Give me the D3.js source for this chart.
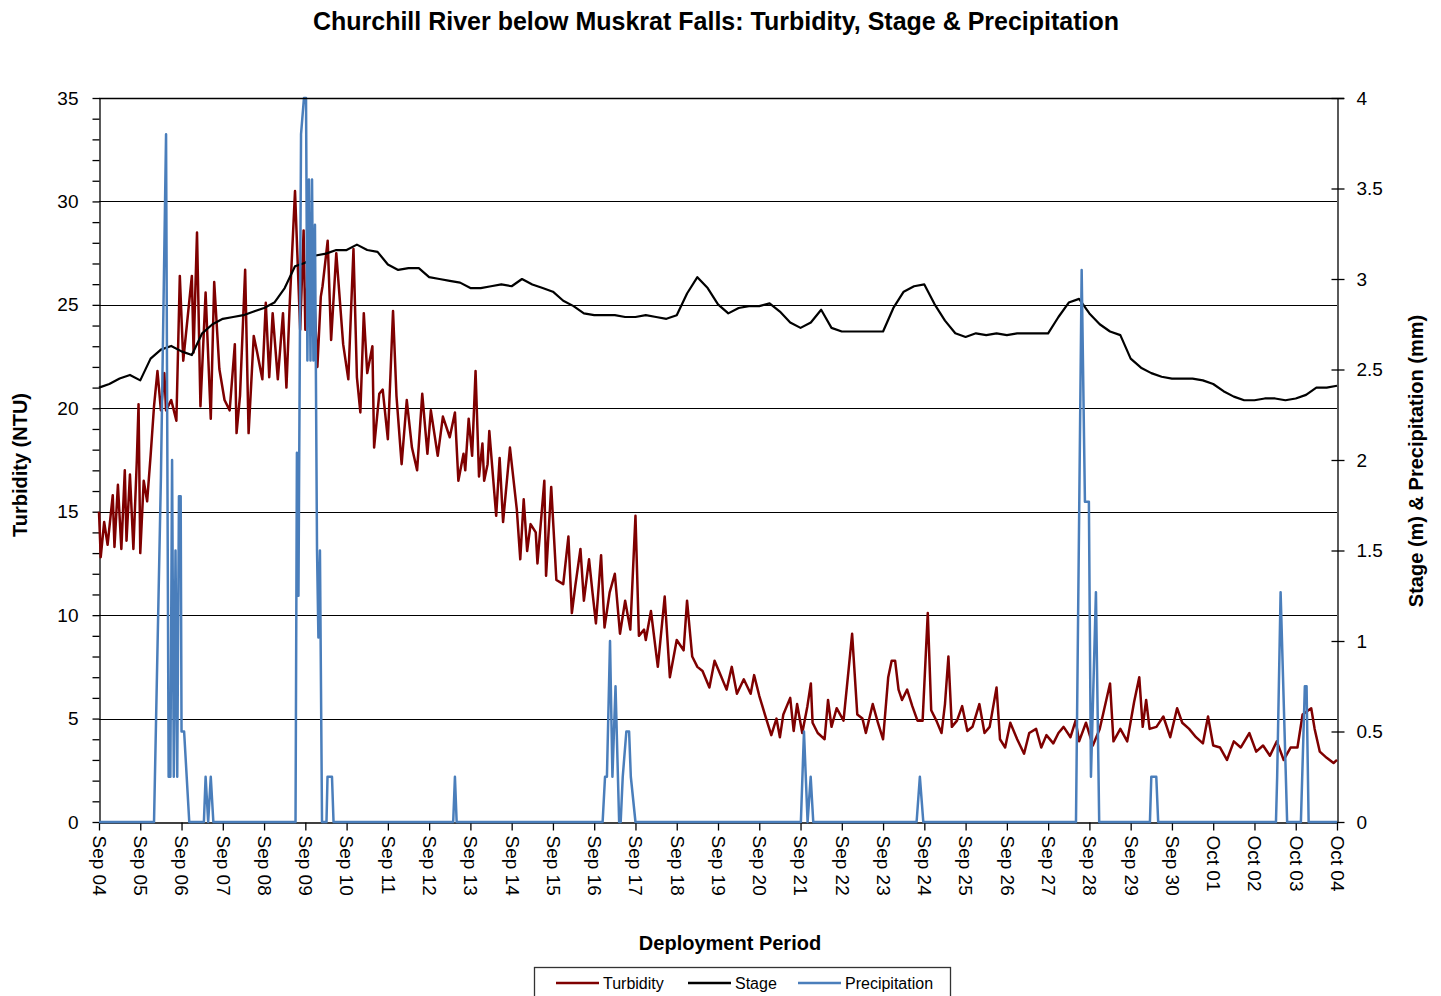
<!DOCTYPE html>
<html>
<head>
<meta charset="utf-8">
<script src="https://cdn.jsdelivr.net/npm/d3@7"></script>
<style>
  body { margin: 0; background: #fff; }
  svg { display: block; font-family: "Liberation Sans", Arial, sans-serif; }
</style>
</head>
<body>
<svg id="chart" width="1441" height="996"></svg>
<script>
// hours since Sep 04 00:00
const dayLabels = ["Sep 04","Sep 05","Sep 06","Sep 07","Sep 08","Sep 09","Sep 10","Sep 11","Sep 12","Sep 13",
  "Sep 14","Sep 15","Sep 16","Sep 17","Sep 18","Sep 19","Sep 20","Sep 21","Sep 22","Sep 23","Sep 24",
  "Sep 25","Sep 26","Sep 27","Sep 28","Sep 29","Sep 30","Oct 01","Oct 02","Oct 03","Oct 04"];
const leftTicks = [0, 5, 10, 15, 20, 25, 30, 35];
const rightTicks = [0, 0.5, 1, 1.5, 2, 2.5, 3, 3.5, 4];

const turbHours = [0,1,3,5,8,9,11,13,15,16,18,20,22,23,24,26,28,30,32,34,36,38,39,42,45,47,49,54,55,57,59,62,65,67,70,73,76,79,80,82,85,87,90,92,95,97,99,101,104,107,109,111,114,117,119,120,123,127,129,130,133,135,138,142,145,148,150,152,154,156,159,160,163,165,168,171,173,176,179,182,185,188,191,193,197,200,204,207,209,212,213,215,217,219,221,223,224,226,227,231,233,235,239,243,245,247,249,251,254,255,259,260,263,266,270,273,275,277,280,282,285,287,289,292,294,297,300,303,306,309,312,314,317,318,321,325,329,332,336,340,342,345,348,351,355,358,361,365,368,371,375,379,381,384,388,391,394,396,398,402,404,406,409,412,414,415,418,422,424,426,429,433,436,438,441,444,446,450,453,456,459,461,463,465,467,470,473,476,479,482,484,487,490,492,494,496,499,502,505,508,512,515,518,522,524,527,530,534,538,541,545,548,551,555,558,561,565,568,570,574,578,582,588,590,594,598,602,605,607,609,611,615,619,623,627,630,634,638,642,645,648,652,656,660,664,669,673,677,681,685,689,693,697,700,705,707,710,714,718,720];
const turbValues = [15.0,12.8,14.5,13.4,15.8,13.3,16.3,13.2,17.0,13.6,16.8,13.2,17.5,20.2,13.0,16.5,15.5,17.7,20.1,21.8,19.9,21.7,19.9,20.4,19.4,26.4,22.3,26.4,22.7,28.5,20.1,25.6,19.5,26.1,21.9,20.4,19.9,23.1,18.8,20.6,26.7,18.8,23.5,22.7,21.4,25.1,21.5,24.6,21.4,24.6,21.0,25.2,30.5,23.8,28.6,23.8,29.4,22.0,25.4,25.9,28.1,23.3,27.5,23.1,21.4,27.7,21.5,19.8,24.6,21.7,23.0,18.1,20.7,20.9,18.5,24.7,20.6,17.3,20.4,18.1,17.0,20.7,17.8,19.9,17.7,19.6,18.6,19.8,16.5,17.8,17.0,19.5,17.7,21.8,16.7,18.3,16.5,17.3,18.9,14.8,17.6,14.5,18.1,15.1,12.7,15.6,13.1,14.4,14.0,12.5,16.5,11.9,16.2,11.7,11.5,13.8,10.1,11.4,13.2,10.7,12.7,11.1,9.6,12.9,9.4,11.1,12.0,9.1,10.7,9.3,14.8,9.0,9.3,8.8,10.2,7.5,10.9,7.0,8.8,8.3,10.7,8.0,7.5,7.3,6.5,7.8,7.2,6.4,7.5,6.2,6.9,6.2,7.1,6.1,5.0,4.2,5.0,4.1,5.2,6.0,4.4,5.7,4.3,5.6,6.7,4.8,4.3,4.0,5.9,4.6,5.5,4.9,7.4,9.1,5.2,5.0,4.3,5.7,4.8,4.0,7.0,7.8,7.8,6.4,5.9,6.4,5.6,4.9,4.9,10.1,5.4,4.9,4.3,5.7,8.0,4.6,4.9,5.6,4.4,4.6,5.7,4.3,4.6,6.5,4.0,3.6,4.8,4.0,3.3,4.3,4.5,3.6,4.2,3.8,4.3,4.6,4.1,4.9,3.9,4.8,3.7,4.5,6.7,3.9,4.5,3.9,5.8,7.0,4.6,5.9,4.5,4.6,5.1,4.1,5.5,4.8,4.5,4.1,3.8,5.1,3.7,3.6,3.0,3.9,3.6,4.3,3.4,3.7,3.2,3.9,3.0,3.6,3.6,5.2,5.5,4.5,3.4,3.1,2.85,3.0];

// stage every 6 hours
const stageStep = 6;
const stageValues = [2.40,2.42,2.45,2.47,2.44,2.56,2.61,2.63,2.60,2.58,
  2.70,2.75,2.78,2.79,2.80,2.82,2.84,2.87,2.95,3.07,
  3.09,3.13,3.14,3.16,3.16,3.19,3.16,3.15,3.08,3.05,
  3.06,3.06,3.01,3.00,2.99,2.98,2.95,2.95,2.96,2.97,
  2.96,3.00,2.97,2.95,2.93,2.88,2.85,2.81,2.80,2.80,
  2.80,2.79,2.79,2.80,2.79,2.78,2.80,2.92,3.01,2.95,
  2.86,2.81,2.84,2.85,2.85,2.865,2.82,2.76,2.73,2.76,
  2.83,2.73,2.71,2.71,2.71,2.71,2.71,2.84,2.93,2.96,
  2.97,2.86,2.77,2.70,2.68,2.70,2.69,2.70,2.69,2.70,
  2.70,2.70,2.70,2.79,2.87,2.89,2.81,2.75,2.71,2.69,
  2.56,2.51,2.48,2.46,2.45,2.45,2.45,2.44,2.42,2.38,
  2.35,2.33,2.33,2.34,2.34,2.33,2.34,2.36,2.40,2.40,2.41];

const precipHours = [0,32,36,39,40.5,41.5,42.5,43.5,44.5,45.5,46.5,47.5,48,49.5,52.5,
  61,62,63.5,65,66.5,
  114.3,115.1,116,117.5,119.2,120.4,121.2,122.1,123,123.9,124.7,125.6,126.8,127.6,128.5,129.7,132.3,132.9,135.5,136.4,
  206,207,208,
  292.9,294.3,295.4,297.2,298.6,300.4,302.5,303.4,304.6,306.7,308.3,309.3,312,
  408.2,410,412.1,413.9,415.4,
  475.5,477.4,479.4,
  568.2,571.5,573.4,575.7,576.9,579.8,581.7,
  611.2,612,614.9,616,
  684.5,685.2,687.2,691,699,701.3,702.3,703.5,720];
const precipValues = [0,0,1.9,3.8,0.25,0.25,2.0,0.25,1.5,0.25,1.8,1.8,0.5,0.5,0,
  0,0.25,0,0.25,0,
  0,2.04,1.25,3.8,4.0,4.0,2.55,3.55,2.55,3.55,2.55,3.3,1.5,1.02,1.5,0,0,0.25,0.25,0,
  0,0.25,0,
  0,0.25,0.25,1.0,0.25,0.75,0,0,0.25,0.5,0.5,0.25,0,
  0,0.5,0,0.25,0,
  0,0.25,0,
  0,3.05,1.77,1.77,0.25,1.27,0,
  0,0.25,0.25,0,
  0,0.25,1.27,0,0,0.75,0.75,0,0];

const colors = { turbidity: "#7f0000", stage: "#000000", precip: "#4a7ebb" };

const svg = d3.select("#chart");
const plotLeft = 99, plotRight = 1337, plotTop = 98, plotBottom = 822;

const x = d3.scaleLinear().domain([0, 720]).range([plotLeft, plotRight]);
const yL = d3.scaleLinear().domain([0, 35]).range([plotBottom, plotTop]);
const yR = d3.scaleLinear().domain([0, 4]).range([plotBottom, plotTop]);

// title
svg.append("text")
  .attr("x", 716).attr("y", 30)
  .attr("text-anchor", "middle")
  .style("font-size", "25px").style("font-weight", "bold")
  .text("Churchill River below Muskrat Falls: Turbidity, Stage & Precipitation");

// gridlines (left axis)
svg.append("g")
  .selectAll("line")
  .data(leftTicks.filter(d => d > 0 && d < 35))
  .join("line")
  .attr("x1", plotLeft).attr("x2", plotRight)
  .attr("y1", d => Math.round(yL(d)) + 0.5).attr("y2", d => Math.round(yL(d)) + 0.5)
  .attr("stroke", "#000").attr("stroke-width", 1.2);

// left axis
const leftAxis = svg.append("g")
  .attr("transform", `translate(${plotLeft + 0.5},0)`)
  .call(d3.axisLeft(yL).tickValues(d3.range(0, 36, 1)).tickSize(7).tickSizeOuter(0).tickPadding(14)
    .tickFormat(d => leftTicks.includes(d) ? d : ""));
leftAxis.selectAll("text").style("font-size", "19px").attr("fill", "#000");

// right axis
const rightAxis = svg.append("g")
  .attr("transform", `translate(${plotRight + 0.5},0)`)
  .call(d3.axisRight(yR).tickValues(rightTicks).tickSize(7).tickSizeOuter(0).tickPadding(12)
    .tickFormat(d => d));
rightAxis.selectAll(".tick line").attr("x1", -6);
rightAxis.selectAll("text").style("font-size", "19px").attr("fill", "#000");

// bottom axis
const bottomAxis = svg.append("g")
  .attr("transform", `translate(0,${plotBottom + 0.5})`)
  .call(d3.axisBottom(x).tickValues(d3.range(0, 721, 24)).tickSize(8).tickSizeOuter(0)
    .tickFormat((d, i) => dayLabels[i]));
bottomAxis.selectAll("text")
  .attr("transform", "rotate(90)")
  .attr("x", 13).attr("y", 0).attr("dy", "0.35em")
  .style("text-anchor", "start")
  .style("font-size", "19px").attr("fill", "#000");

[leftAxis, rightAxis, bottomAxis].forEach(g => {
  g.selectAll("path, line").attr("stroke", "#000").attr("stroke-width", 1.3);
});

// axis titles
svg.append("text")
  .attr("transform", "translate(27,465) rotate(-90)")
  .attr("text-anchor", "middle")
  .style("font-size", "20px").style("font-weight", "bold")
  .text("Turbidity (NTU)");

svg.append("text")
  .attr("transform", "translate(1423,461) rotate(-90)")
  .attr("text-anchor", "middle")
  .style("font-size", "20px").style("font-weight", "bold")
  .text("Stage (m) & Precipitation (mm)");

svg.append("text")
  .attr("x", 730).attr("y", 950)
  .attr("text-anchor", "middle")
  .style("font-size", "20px").style("font-weight", "bold")
  .text("Deployment Period");

// series
const turbLine = d3.line().x(d => x(d[0])).y(d => yL(d[1]));
const rLine = d3.line().x(d => x(d[0])).y(d => yR(d[1]));

svg.append("path")
  .datum(turbHours.map((h, i) => [h, turbValues[i]]))
  .attr("d", turbLine)
  .attr("fill", "none").attr("stroke", colors.turbidity).attr("stroke-width", 2.5)
  .attr("stroke-linejoin", "round");

svg.append("path")
  .datum(stageValues.map((v, i) => [i * stageStep, v]))
  .attr("d", rLine)
  .attr("fill", "none").attr("stroke", colors.stage).attr("stroke-width", 2.2)
  .attr("stroke-linejoin", "round");

svg.append("path")
  .datum(precipHours.map((h, i) => [h, precipValues[i]]))
  .attr("d", rLine)
  .attr("fill", "none").attr("stroke", colors.precip).attr("stroke-width", 2.5)
  .attr("stroke-linejoin", "round");

// top border
svg.append("line")
  .attr("x1", plotLeft).attr("x2", plotRight + 7)
  .attr("y1", plotTop + 0.5).attr("y2", plotTop + 0.5)
  .attr("stroke", "#000").attr("stroke-width", 1.3);

// legend
const legendItems = [
  { name: "Turbidity", color: colors.turbidity, x: 556 },
  { name: "Stage", color: colors.stage, x: 688 },
  { name: "Precipitation", color: colors.precip, x: 798 }
];
svg.append("rect")
  .attr("x", 534.5).attr("y", 967.5).attr("width", 416).attr("height", 40)
  .attr("fill", "#fff").attr("stroke", "#333").attr("stroke-width", 1.3);

const legend = svg.append("g")
  .selectAll("g")
  .data(legendItems)
  .join("g")
  .attr("transform", d => `translate(${d.x},983)`);
legend.append("line")
  .attr("x1", 0).attr("x2", 43)
  .attr("stroke", d => d.color).attr("stroke-width", 2.5);
legend.append("text")
  .attr("x", 47).attr("dy", "0.35em")
  .style("font-size", "16px")
  .text(d => d.name);
</script>
</body>
</html>
